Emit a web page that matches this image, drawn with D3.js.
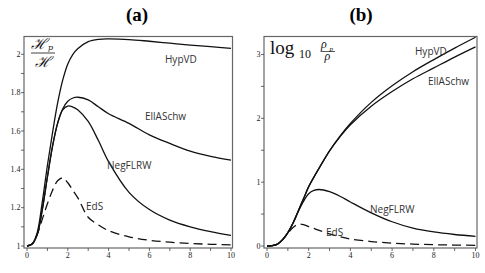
<!DOCTYPE html>
<html>
<head>
<meta charset="utf-8">
<script src="https://cdn.jsdelivr.net/npm/d3@7"></script>
<style>
  body { margin: 0; background: #fff; }
  svg { display: block; }
  .tick-label { font-family: "Liberation Serif", serif; font-size: 8px; fill: #222; }
  .curve-label { font-family: "Open Sans", sans-serif; font-size: 10px; fill: #333; }
  .title { font-family: "Liberation Serif", serif; font-size: 19px; font-weight: bold; fill: #000; }
</style>
</head>
<body>
<svg id="chart" width="485" height="273"></svg>
<script>
// shared x grid (time) for both panels
const xGrid = [0, 0.25, 0.5, 0.75, 1, 1.25, 1.5, 1.75, 2, 2.25, 2.5, 3, 3.5, 4, 5, 6, 7, 8, 9, 10];
const xTicks = [0, 2, 4, 6, 8, 10];
const xMinor = [1, 3, 5, 7, 9];

// panel (a): H_p / H
const aHypVD   = [1, 1.01, 1.07, 1.23, 1.42, 1.59, 1.745, 1.865, 1.95, 2.0, 2.03, 2.066, 2.078, 2.08, 2.077, 2.068, 2.058, 2.048, 2.04, 2.031];
const aEllASchw = [1, 1.01, 1.06, 1.19, 1.36, 1.52, 1.64, 1.715, 1.755, 1.772, 1.776, 1.762, 1.726, 1.69, 1.64, 1.58, 1.535, 1.495, 1.468, 1.448];
const aNegFLRW = [1, 1.01, 1.06, 1.19, 1.36, 1.52, 1.64, 1.71, 1.73, 1.725, 1.71, 1.65, 1.55, 1.44, 1.28, 1.19, 1.135, 1.1, 1.075, 1.055];
const aEdS     = [1, 1.01, 1.06, 1.14, 1.22, 1.29, 1.34, 1.355, 1.33, 1.29, 1.25, 1.15, 1.11, 1.08, 1.048, 1.03, 1.02, 1.013, 1.009, 1.006];
const aYTicks = [1, 1.2, 1.4, 1.6, 1.8, 2];
const aYMinor = [1.1, 1.3, 1.5, 1.7, 1.9];

// panel (b): log10 rho_p / rho
const bHypVD   = [0, 0.005, 0.03, 0.1, 0.21, 0.36, 0.55, 0.74, 0.93, 1.08, 1.22, 1.49, 1.72, 1.92, 2.25, 2.51, 2.73, 2.92, 3.1, 3.27];
const bEllASchw = [0, 0.005, 0.03, 0.1, 0.21, 0.36, 0.55, 0.74, 0.93, 1.08, 1.22, 1.49, 1.71, 1.9, 2.19, 2.42, 2.62, 2.79, 2.96, 3.12];
const bNegFLRW = [0, 0.005, 0.03, 0.1, 0.21, 0.36, 0.54, 0.7, 0.82, 0.87, 0.885, 0.85, 0.78, 0.69, 0.52, 0.38, 0.28, 0.22, 0.18, 0.15];
const bEdS     = [0, 0.005, 0.03, 0.1, 0.2, 0.29, 0.34, 0.335, 0.305, 0.275, 0.245, 0.19, 0.145, 0.11, 0.07, 0.045, 0.03, 0.02, 0.015, 0.01];
const bYTicks = [0, 1, 2, 3];
const bYMinor = [0.5, 1.5, 2.5];

const svg = d3.select("#chart");

function drawPanel(opts) {
  const x = d3.scaleLinear().domain([0, 10]).range(opts.xRange);
  const y = d3.scaleLinear().domain(opts.yDomain).range([246, opts.yTopPx]);
  const g = svg.append("g");

  // frame
  const left = opts.xRange[0] - 3, right = opts.xRange[1] + 1.5;
  const top = 36.5, bottom = 248;
  g.append("rect")
    .attr("x", left).attr("y", top)
    .attr("width", right - left).attr("height", bottom - top)
    .attr("fill", "none").attr("stroke", "#666").attr("stroke-width", 1.2);

  // x ticks
  xTicks.concat(xMinor).forEach(t => {
    g.append("line")
      .attr("x1", x(t)).attr("x2", x(t))
      .attr("y1", bottom).attr("y2", bottom + 3)
      .attr("stroke", "#444").attr("stroke-width", 0.8);
  });
  xTicks.forEach(t => {
    g.append("text").attr("class", "tick-label")
      .attr("x", x(t)).attr("y", 257.5)
      .attr("text-anchor", "middle").text(t);
  });

  // y ticks
  opts.yTicks.concat(opts.yMinor).forEach(t => {
    g.append("line")
      .attr("x1", left - 3).attr("x2", left)
      .attr("y1", y(t)).attr("y2", y(t))
      .attr("stroke", "#444").attr("stroke-width", 0.8);
  });
  opts.yTicks.forEach(t => {
    g.append("text").attr("class", "tick-label")
      .attr("x", left - 3.5).attr("y", y(t) + 2.8)
      .attr("text-anchor", "end").text(t);
  });

  const line = d3.line()
    .x((d, i) => x(xGrid[i]))
    .y(d => y(d))
    .curve(d3.curveCatmullRom.alpha(0.5));

  opts.series.forEach(s => {
    g.append("path")
      .attr("d", line(s.values))
      .attr("fill", "none")
      .attr("stroke", "#111")
      .attr("stroke-width", 1.3)
      .attr("stroke-dasharray", s.dashed ? "9,5" : null);
  });

  opts.labels.forEach(l => {
    g.append("text").attr("class", "curve-label")
      .attr("x", l[1]).attr("y", l[2]).text(l[0]);
  });

  g.append("text").attr("class", "title")
    .attr("x", opts.titleX).attr("y", 21)
    .attr("text-anchor", "middle").text(opts.title);

  return g;
}

const ga = drawPanel({
  xRange: [27, 231],
  yDomain: [1, 2],
  yTopPx: 54.3,
  yTicks: aYTicks, yMinor: aYMinor,
  series: [
    { values: aHypVD }, { values: aEllASchw }, { values: aNegFLRW }, { values: aEdS, dashed: true }
  ],
  labels: [["HypVD", 165, 63], ["EllASchw", 145, 120], ["NegFLRW", 107, 169], ["EdS", 86, 210]],
  title: "(a)", titleX: 137
});

const gb = drawPanel({
  xRange: [267, 475.5],
  yDomain: [0, 3],
  yTopPx: 54.5,
  yTicks: bYTicks, yMinor: bYMinor,
  series: [
    { values: bHypVD }, { values: bEllASchw }, { values: bNegFLRW }, { values: bEdS, dashed: true }
  ],
  labels: [["HypVD", 415, 55], ["EllASchw", 428, 85], ["NegFLRW", 370, 213], ["EdS", 326, 236]],
  title: "(b)", titleX: 361
});

// axis quantity labels
const fa = ga.append("g").attr("font-family", "DejaVu Serif, serif").attr("fill", "#111");
fa.append("text").attr("x", 31).attr("y", 49).attr("font-size", 15).attr("font-style", "italic").text("ℋ");
fa.append("text").attr("x", 48).attr("y", 50).attr("font-size", 8).attr("font-style", "italic").text("p");
fa.append("line").attr("x1", 31).attr("x2", 55).attr("y1", 53).attr("y2", 53).attr("stroke", "#111").attr("stroke-width", 0.8);
fa.append("text").attr("x", 35).attr("y", 67).attr("font-size", 15).attr("font-style", "italic").text("ℋ");

const fb = gb.append("g").attr("font-family", "Liberation Serif, serif").attr("fill", "#111");
fb.append("text").attr("x", 270).attr("y", 54).attr("font-size", 19).text("log");
fb.append("text").attr("x", 299).attr("y", 58).attr("font-size", 12).text("10");
fb.append("text").attr("x", 321).attr("y", 48).attr("font-size", 12).attr("font-style", "italic").text("ρ");
fb.append("text").attr("x", 329.5).attr("y", 50.5).attr("font-size", 7).attr("font-style", "italic").text("p");
fb.append("line").attr("x1", 320.5).attr("x2", 335).attr("y1", 51.5).attr("y2", 51.5).attr("stroke", "#111").attr("stroke-width", 0.7);
fb.append("text").attr("x", 324.5).attr("y", 60).attr("font-size", 12).attr("font-style", "italic").text("ρ");
</script>
</body>
</html>
